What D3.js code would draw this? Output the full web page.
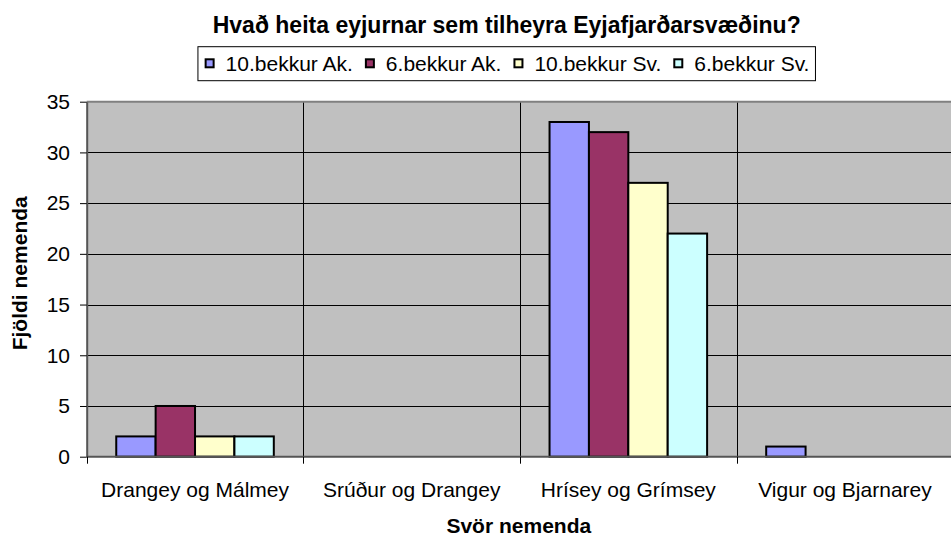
<!DOCTYPE html>
<html>
<head>
<meta charset="utf-8">
<script src="https://d3js.org/d3.v7.min.js"></script>
<style>
  body { margin: 0; background: white; }
  svg { display: block; font-family: "Liberation Sans", Arial, sans-serif; }
</style>
</head>
<body>
<svg id="graph"></svg>
<script>
// chart data
var chartTitle = "Hvað heita eyjurnar sem tilheyra Eyjafjarðarsvæðinu?";
var xTitle = "Svör nemenda";
var yTitle = "Fjöldi nemenda";
var categories = ["Drangey og Málmey", "Srúður og Drangey", "Hrísey og Grímsey", "Vigur og Bjarnarey"];
var seriesNames = ["10.bekkur Ak.", "6.bekkur Ak.", "10.bekkur Sv.", "6.bekkur Sv."];
var tenthAk = [2, 0, 33, 1];
var sixthAk = [5, 0, 32, 0];
var tenthSv = [2, 0, 27, 0];
var sixthSv = [2, 0, 22, 0];
var yTicks = [0, 5, 10, 15, 20, 25, 30, 35];

var drawChart = function(svgSelector)
{
  var screen = { width: 951, height: 536 };
  var plot = { left: 86.7, right: 953.3, top: 101.7, bottom: 456.7 };
  var colors = ["#9999FF", "#993366", "#FFFFCC", "#CCFFFF"];
  var seriesValues = [tenthAk, sixthAk, tenthSv, sixthSv];

  var svg = d3.select(svgSelector)
              .attr("width", screen.width)
              .attr("height", screen.height);

  var xScale = d3.scaleBand()
                 .domain(categories)
                 .range([plot.left, plot.right])
                 .padding(0);

  var seriesScale = d3.scaleBand()
                      .domain(seriesNames)
                      .range([0, xScale.bandwidth()])
                      .paddingInner(0)
                      .paddingOuter(0.75);

  var yScale = d3.scaleLinear()
                 .domain([0, 35])
                 .range([plot.bottom, plot.top]);

  var colorScale = d3.scaleOrdinal().domain(seriesNames).range(colors);

  // plot area
  svg.append("rect")
     .attr("x", plot.left)
     .attr("y", plot.top)
     .attr("width", plot.right - plot.left)
     .attr("height", plot.bottom - plot.top)
     .attr("fill", "#C0C0C0");

  // horizontal gridlines
  svg.append("g")
     .selectAll("line")
     .data(yTicks.filter(function(t){ return t > 0 && t < 35; }))
     .enter()
     .append("line")
     .attr("x1", plot.left)
     .attr("x2", plot.right)
     .attr("y1", function(t){ return Math.round(yScale(t)) + 0.5; })
     .attr("y2", function(t){ return Math.round(yScale(t)) + 0.5; })
     .style("stroke", "black")
     .style("stroke-width", 1);

  // vertical gridlines between categories
  svg.append("g")
     .selectAll("line")
     .data(categories.slice(1))
     .enter()
     .append("line")
     .attr("x1", function(c){ return Math.round(xScale(c)) + 0.5; })
     .attr("x2", function(c){ return Math.round(xScale(c)) + 0.5; })
     .attr("y1", plot.top)
     .attr("y2", plot.bottom)
     .style("stroke", "black")
     .style("stroke-width", 1);

  // top border of plot area
  svg.append("line")
     .attr("x1", plot.left)
     .attr("x2", plot.right)
     .attr("y1", plot.top)
     .attr("y2", plot.top)
     .style("stroke", "#808080")
     .style("stroke-width", 2);

  // bars
  var groups = svg.append("g")
                  .selectAll("g")
                  .data(categories)
                  .enter()
                  .append("g")
                  .attr("transform", function(c){ return "translate(" + xScale(c) + ",0)"; });

  groups.selectAll("rect")
        .data(function(c, i){
          return seriesNames.map(function(s, j){ return { series: s, value: seriesValues[j][i] }; })
                            .filter(function(d){ return d.value > 0; });
        })
        .enter()
        .append("rect")
        .attr("x", function(d){ return seriesScale(d.series); })
        .attr("y", function(d){ return yScale(d.value); })
        .attr("width", seriesScale.bandwidth())
        .attr("height", function(d){ return yScale(0) - yScale(d.value); })
        .attr("fill", function(d){ return colorScale(d.series); })
        .style("stroke", "black")
        .style("stroke-width", 2);

  // y axis
  var yAxis = svg.append("g")
                 .attr("transform", "translate(" + plot.left + ",0)")
                 .call(d3.axisLeft(yScale)
                         .tickValues(yTicks)
                         .tickSize(6.7)
                         .tickSizeOuter(0)
                         .tickPadding(10));
  yAxis.select(".domain").style("stroke", "#555").style("stroke-width", 2);
  yAxis.selectAll(".tick line").style("stroke", "black");
  yAxis.selectAll("text")
       .attr("font-size", 21)
       .attr("font-family", "Liberation Sans, Arial, sans-serif")
       .attr("fill", "black");

  // x axis labels
  var xAxis = svg.append("g")
                 .attr("transform", "translate(0," + plot.bottom + ")")
                 .call(d3.axisBottom(xScale)
                         .tickSize(0)
                         .tickSizeOuter(0)
                         .tickPadding(25.1));
  xAxis.select(".domain").remove();
  xAxis.selectAll("text")
       .attr("font-size", 21)
       .attr("font-family", "Liberation Sans, Arial, sans-serif")
       .attr("fill", "black");

  // x axis line and boundary ticks
  svg.append("line")
     .attr("x1", plot.left)
     .attr("x2", plot.right)
     .attr("y1", plot.bottom)
     .attr("y2", plot.bottom)
     .style("stroke", "#555")
     .style("stroke-width", 2);

  svg.append("g")
     .selectAll("line")
     .data(categories)
     .enter()
     .append("line")
     .attr("x1", function(c){ return Math.round(xScale(c)) + 0.5; })
     .attr("x2", function(c){ return Math.round(xScale(c)) + 0.5; })
     .attr("y1", plot.bottom)
     .attr("y2", plot.bottom + 7)
     .style("stroke", "black")
     .style("stroke-width", 1);

  // titles
  svg.append("text")
     .text(chartTitle)
     .attr("x", 506.7)
     .attr("y", 33.3)
     .attr("text-anchor", "middle")
     .attr("font-size", 23)
     .attr("font-weight", "bold");

  svg.append("text")
     .text(xTitle)
     .attr("x", 518.8)
     .attr("y", 533.3)
     .attr("text-anchor", "middle")
     .attr("font-size", 21)
     .attr("font-weight", "bold");

  svg.append("text")
     .text(yTitle)
     .attr("transform", "translate(27.3,273.3) rotate(-90)")
     .attr("text-anchor", "middle")
     .attr("font-size", 21)
     .attr("font-weight", "bold");

  // legend
  var legend = svg.append("g").classed("legend", true);
  var legendBox = legend.append("rect")
                        .attr("y", 46.7)
                        .attr("height", 34)
                        .attr("fill", "white")
                        .style("stroke", "black")
                        .style("stroke-width", 1);

  var cursor = 6.7;
  var entries = legend.append("g");
  seriesNames.forEach(function(name)
  {
    entries.append("rect")
           .attr("x", cursor + 1)
           .attr("y", 59.3)
           .attr("width", 8)
           .attr("height", 8)
           .attr("fill", colorScale(name))
           .style("stroke", "black")
           .style("stroke-width", 2);
    var label = entries.append("text")
                       .text(name)
                       .attr("x", cursor + 21)
                       .attr("y", 71)
                       .attr("font-size", 21);
    cursor = cursor + 21 + label.node().getComputedTextLength() + 12;
  });
  var boxWidth = cursor - 12 + 6;
  var boxLeft = 506.7 - boxWidth / 2;
  legendBox.attr("x", boxLeft).attr("width", boxWidth);
  entries.attr("transform", "translate(" + boxLeft + ",0)");
}

drawChart("#graph");
</script>
</body>
</html>
